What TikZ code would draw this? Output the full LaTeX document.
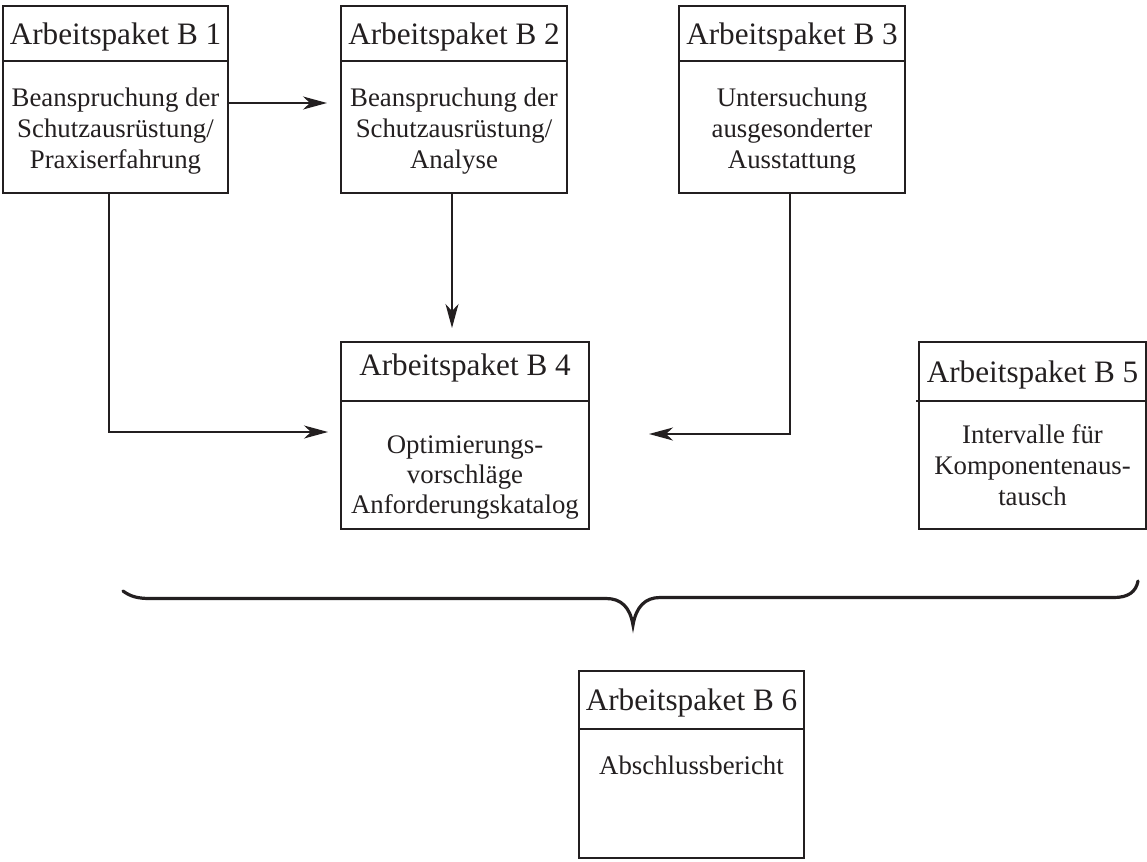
\documentclass[tikz,border=0pt]{standalone}
\usepackage{fontspec}
\setmainfont{Liberation Serif}
\usetikzlibrary{arrows.meta,calc}
\definecolor{ink}{HTML}{231F20}
\newcommand{\toppad}[1]{\rule{0pt}{#1}}
\tikzset{
  pbox/.style={draw=ink, line width=2.6pt, outer sep=0pt, inner sep=0pt, anchor=north west, text=ink},
  hdr/.style={pbox, text depth=0pt, font=\fontsize{31.2}{36}\selectfont},
  bdy/.style={pbox, align=center, font=\fontsize{26.8}{31}\selectfont},
  conn/.style={draw=ink, line width=1.3pt},
  arr/.style={conn, -{Stealth[length=24pt,width=13pt,inset=7pt]}},
  bracepath/.style={draw=ink, line width=3.2pt, line cap=round},
}
\begin{document}
\begin{tikzpicture}[x=1pt,y=-1pt]
\useasboundingbox (0,0) rectangle (1147,861);

% B1
\node[hdr, minimum width=225pt, minimum height=55pt] (h1) at (3,6) {Arbeitspaket B 1};
\node[bdy, minimum width=225pt, minimum height=132pt] (b1) at (h1.south west)
  {\toppad{26pt}Beanspruchung der\\Schutzausrüstung/\\Praxiserfahrung};
% B2
\node[hdr, minimum width=226pt, minimum height=55pt] (h2) at (341,6) {Arbeitspaket B 2};
\node[bdy, minimum width=226pt, minimum height=132pt] (b2) at (h2.south west)
  {\toppad{26pt}Beanspruchung der\\Schutzausrüstung/\\Analyse};
% B3
\node[hdr, minimum width=226pt, minimum height=55pt] (h3) at (679,6) {Arbeitspaket B 3};
\node[bdy, minimum width=226pt, minimum height=132pt] (b3) at (h3.south west)
  {\toppad{26pt}Untersuchung\\ausgesonderter\\Ausstattung};
% B4
\node[hdr, text depth=14pt, minimum width=248pt, minimum height=59pt] (h4) at (341,342) {Arbeitspaket B 4};
\node[bdy, font=\fontsize{26.8}{30}\selectfont, minimum width=248pt, minimum height=128pt] (b4) at (h4.south west)
  {\toppad{42pt}Optimierungs-\\vorschläge\\Anforderungskatalog};
% B5
\node[hdr, minimum width=227pt, minimum height=59pt] (h5) at (919,342) {Arbeitspaket B 5};
\node[bdy, minimum width=227pt, minimum height=128pt] (b5) at (h5.south west)
  {Intervalle für\\Komponentenaus-\\tausch};
\draw[draw=ink, line width=2.6pt] (h5.south west) -- ++(-3,0);
% B6
\node[hdr, minimum width=225pt, minimum height=58pt] (h6) at (579,671) {Arbeitspaket B 6};
\node[bdy, minimum width=225pt, minimum height=129pt] (b6) at (h6.south west)
  {\parbox[c][76pt][t]{200pt}{\centering Abschlussbericht}};

% connector ends
\coordinate (e12) at (327,103);
\coordinate (e14) at (328,432);
\coordinate (e24) at (452,328);
\coordinate (e34) at (649,434);

\draw[arr] (b1.east |- e12) -- (e12);
\draw[arr] ([xshift=-6.5pt]b1.south) |- (e14);
\draw[arr] (b2.south -| e24) -- (e24);
\draw[arr] ([xshift=-2pt]b3.south) |- (e34);

% brace
\draw[bracepath] (123,591) .. controls (131,597) and (139,598.5) .. (150,598.5)
  -- (606,598.5) .. controls (621,598.5) and (630,607) .. (633,625)
  .. controls (636,607) and (645,597.5) .. (660,597.5)
  -- (1114,597.5) .. controls (1128,597.5) and (1136,592) .. (1138,581);
\end{tikzpicture}
\end{document}
